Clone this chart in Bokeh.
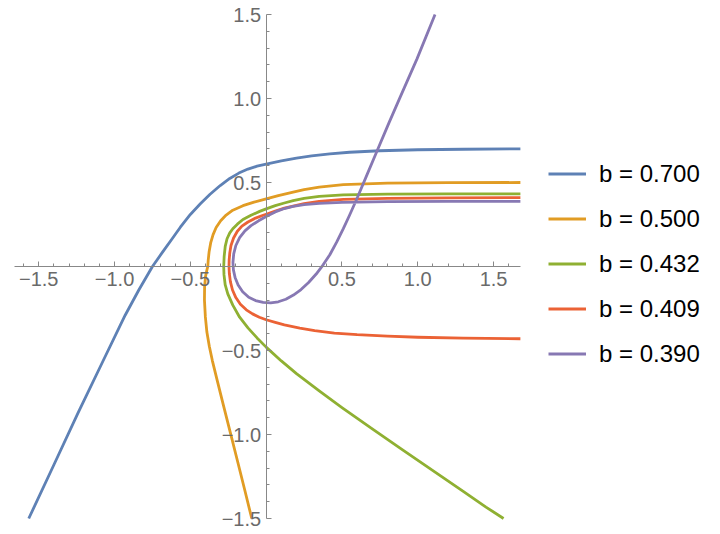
from bokeh.plotting import figure
from bokeh.models import LinearAxis, FixedTicker, Range1d, Legend, LegendItem
from bokeh.embed import file_html
from bokeh.resources import INLINE

# ---------------- data ----------------
b_labels = ["b = 0.700", "b = 0.500", "b = 0.432", "b = 0.409", "b = 0.390"]

x_b700 = [-1.566, -1.40, -1.24, -1.08, -0.93, -0.84, -0.75, -0.68, -0.62, -0.566, -0.50,
          -0.434, -0.37, -0.303, -0.24, -0.18, -0.12, -0.06, 0.0, 0.1, 0.2, 0.3, 0.42,
          0.55, 0.75, 1.0, 1.3, 1.677]
y_b700 = [-1.5, -1.18, -0.87, -0.57, -0.29, -0.14, 0.0, 0.09, 0.165, 0.234, 0.31,
          0.373, 0.43, 0.482, 0.524, 0.556, 0.58, 0.597, 0.61, 0.628, 0.645, 0.658, 0.67,
          0.68, 0.689, 0.695, 0.698, 0.70]

x_b500 = [-0.095, -0.14, -0.187, -0.235, -0.283, -0.325, -0.355, -0.375, -0.391, -0.401,
          -0.407, -0.406, -0.40, -0.392, -0.385, -0.382, -0.376, -0.366, -0.35, -0.33,
          -0.30, -0.264, -0.22, -0.153, -0.08, 0.0, 0.08, 0.178, 0.25, 0.35, 0.509,
          0.8, 1.2, 1.677]
y_b500 = [-1.5, -1.335, -1.165, -0.993, -0.822, -0.67, -0.56, -0.475, -0.39, -0.30,
          -0.2, -0.12, -0.06, -0.025, 0.0, 0.04, 0.09, 0.14, 0.19, 0.232,
          0.272, 0.306, 0.335, 0.362, 0.383, 0.402, 0.422, 0.443, 0.458, 0.472, 0.487,
          0.496, 0.499, 0.50]

x_b432 = [1.566, 1.45, 1.3, 1.1, 0.9, 0.7, 0.5, 0.35, 0.2, 0.1, 0.0, -0.06, -0.12, -0.175,
          -0.22, -0.253, -0.27, -0.278, -0.28, -0.277, -0.27, -0.258, -0.24, -0.22, -0.19,
          -0.153, -0.1, -0.043, 0.0, 0.06, 0.12, 0.178, 0.25, 0.35, 0.509, 0.8, 1.2, 1.677]
y_b432 = [-1.5, -1.432, -1.339, -1.215, -1.091, -0.966, -0.840, -0.741, -0.638, -0.562,
          -0.48, -0.425, -0.365, -0.302, -0.23, -0.163, -0.11, -0.05, 0.0, 0.06, 0.12,
          0.165, 0.2, 0.225, 0.252, 0.28, 0.305, 0.328, 0.343, 0.362, 0.378, 0.392, 0.405,
          0.417, 0.426, 0.431, 0.432, 0.432]

x_b409 = [1.677, 1.3, 1.0, 0.8, 0.6, 0.45, 0.32, 0.222, 0.12, 0.06, 0.0, -0.045, -0.09,
          -0.131, -0.17, -0.2, -0.222, -0.236, -0.243, -0.245, -0.244, -0.24, -0.232,
          -0.215, -0.19, -0.16, -0.12, -0.07, -0.02, 0.0, 0.06, 0.12, 0.178, 0.25, 0.35,
          0.509, 0.8, 1.2, 1.677]
y_b409 = [-0.43, -0.426, -0.421, -0.415, -0.406, -0.396, -0.382, -0.367, -0.348, -0.333,
          -0.317, -0.302, -0.282, -0.258, -0.225, -0.185, -0.14, -0.09, -0.04, 0.0, 0.04,
          0.08, 0.125, 0.17, 0.21, 0.24, 0.265, 0.288, 0.305, 0.311, 0.33, 0.347, 0.36,
          0.374, 0.388, 0.399, 0.406, 0.409, 0.41]

x_b390 = [1.677, 1.2, 0.8, 0.5, 0.35, 0.25, 0.178, 0.12, 0.06, 0.0, -0.05, -0.1, -0.14,
          -0.175, -0.2, -0.214, -0.219, -0.216, -0.205, -0.185, -0.155, -0.115, -0.07,
          -0.02, 0.03, 0.08, 0.13, 0.18, 0.23, 0.28, 0.33, 0.376, 0.42, 0.465, 0.509,
          0.55, 0.597, 0.66, 0.73, 0.81, 0.884, 0.995, 1.114]
y_b390 = [0.388, 0.388, 0.386, 0.382, 0.376, 0.368, 0.358, 0.345, 0.325, 0.298, 0.272,
          0.243, 0.212, 0.172, 0.125, 0.075, 0.025, -0.02, -0.065, -0.11, -0.15, -0.183,
          -0.203, -0.214, -0.216, -0.21, -0.195, -0.17, -0.137, -0.095, -0.045, 0.01,
          0.07, 0.145, 0.225, 0.305, 0.4, 0.535, 0.685, 0.855, 1.008, 1.236, 1.5]

x_plot_range = (-1.66, 1.677)
y_plot_range = (-1.5, 1.5)
x_major = [-1.5, -1.0, -0.5, 0.5, 1.0, 1.5]
x_major_labels = ["\u22121.5", "\u22121.0", "\u22120.5", "0.5", "1.0", "1.5"]
y_major = [-1.5, -1.0, -0.5, 0.5, 1.0, 1.5]
y_major_labels = ["\u22121.5", "\u22121.0", "\u22120.5", "0.5", "1.0", "1.5"]
minor_vals = [round(-1.6 + 0.1 * i, 1) for i in range(33)]

colors = ["#5E81B5", "#E19C24", "#8FB032", "#EB6235", "#8778B3"]

# ---------------- figure ----------------
W, H = 712, 532
left, top, bottom = 4, 4, 4          # frame is padded so edge tick labels are not clipped
pad_px = 10                          # padding (px) between frame edge and axis extent
px_x = 151.6                         # px per x unit
px_y = 168.0                         # px per y unit
frame_w = W - left
x_start = x_plot_range[0] - pad_px / px_x
x_end = x_start + frame_w / px_x     # extra room on the right for the legend
y_start = y_plot_range[0] - pad_px / px_y
y_end = y_plot_range[1] + pad_px / px_y

p = figure(width=W, height=H, output_backend="svg", toolbar_location=None,
           x_axis_location=None, y_axis_location=None,
           x_range=Range1d(x_start, x_end), y_range=Range1d(y_start, y_end),
           min_border_left=left, min_border_top=top, min_border_bottom=bottom,
           min_border_right=0)
p.outline_line_color = None
p.grid.visible = False
p.background_fill_color = "white"
p.border_fill_color = "white"

axis_color = "#888888"
label_color = "#6a6a6a"
font = "Liberation Sans"

xminor = [v for v in minor_vals if v not in x_major and v != 0.0]
yminor = [v for v in minor_vals if v not in y_major and v != 0.0]

xaxis = LinearAxis(fixed_location=0, bounds=x_plot_range,
                   ticker=FixedTicker(ticks=x_major, minor_ticks=xminor),
                   major_label_overrides={k: v for k, v in zip(x_major, x_major_labels)})
yaxis = LinearAxis(fixed_location=0, bounds=y_plot_range,
                   ticker=FixedTicker(ticks=y_major, minor_ticks=yminor),
                   major_label_overrides={k: v for k, v in zip(y_major, y_major_labels)})
for ax in (xaxis, yaxis):
    ax.axis_line_color = axis_color
    ax.axis_line_width = 1
    ax.major_tick_line_color = axis_color
    ax.minor_tick_line_color = axis_color
    ax.major_tick_in = 5
    ax.major_tick_out = 0
    ax.minor_tick_in = 3
    ax.minor_tick_out = 0
    ax.major_label_text_color = label_color
    ax.major_label_text_font = font
    ax.major_label_text_font_size = "20px"
    ax.major_label_standoff = 5
p.add_layout(xaxis, "below")
p.add_layout(yaxis, "left")

series = [(x_b700, y_b700), (x_b500, y_b500), (x_b432, y_b432), (x_b409, y_b409), (x_b390, y_b390)]
items = []
for (xs, ys), c, lab in zip(series, colors, b_labels):
    r = p.line(xs, ys, line_color=c, line_width=2.8, line_join="round", line_cap="butt")
    items.append(LegendItem(label=lab, renderers=[r]))

# legend location = bottom-left corner, in px from frame's left / bottom
legend = Legend(items=items, location=(544, 160.5))
legend.padding = 0
legend.margin = 0
legend.border_line_color = None
legend.background_fill_alpha = 0
legend.glyph_width = 38
legend.glyph_height = 27
legend.label_height = 27
legend.label_standoff = 13
legend.spacing = 17
legend.label_text_font = font
legend.label_text_font_size = "24px"
legend.label_text_color = "black"
p.add_layout(legend, "center")

open("out.html", "w").write(file_html(p, INLINE))
